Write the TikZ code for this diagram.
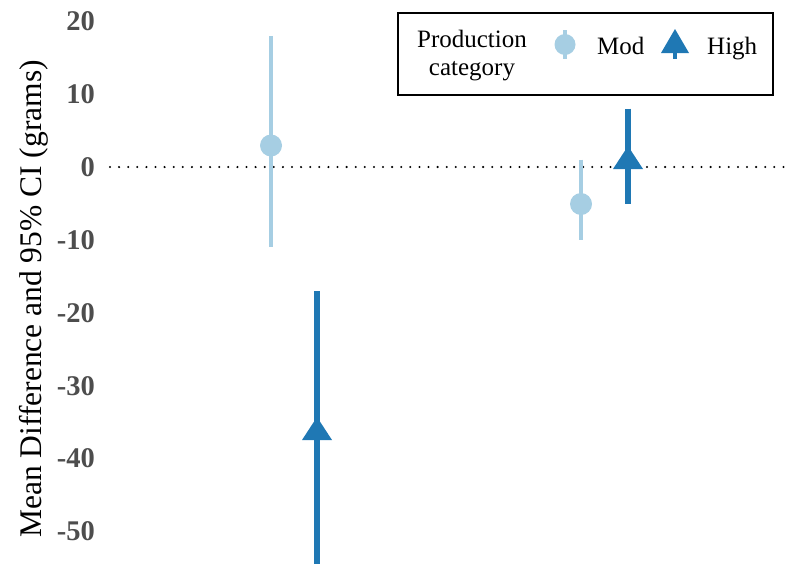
\documentclass[tikz,border=0pt]{standalone}
\usepackage{fontspec}
\setmainfont{Liberation Serif}
\definecolor{lightb}{HTML}{A6CEE3}
\definecolor{darkb}{HTML}{1F78B4}
\definecolor{tickgray}{HTML}{4D4D4D}
\tikzset{
  modci/.style={draw=lightb, line width=4.8pt},
  highci/.style={draw=darkb, line width=5.2pt},
  modpt/.style={circle, fill=lightb, minimum size=22pt, inner sep=0pt},
  ticklab/.style={anchor=east, text=tickgray, font=\fontsize{28.5}{32}\selectfont\bfseries, inner sep=0pt},
  legtext/.style={font=\fontsize{25}{28}\selectfont, inner sep=0pt, anchor=base west},
  zeroline/.style={draw=black, line width=2.3pt, dash pattern=on 0pt off 9.1pt, line cap=round}
}
\begin{document}
\begin{tikzpicture}[x=1pt,y=-1pt]
\useasboundingbox (0,0) rectangle (786,563);
\clip (0,0) rectangle (786,563);
% zero line
\coordinate (z0) at (110,167);
\coordinate (z1) at (786,167);
\draw[zeroline] (z0) -- (z1);
% tick labels
\foreach \v/\lab in {20/20,10/10,0/0,-10/-10,-20/-20,-30/-30,-40/-40,-50/-50}{
  \node[ticklab] (t\lab) at (95,{167-7.29*\v}) {\lab};
}
% axis title
\node[rotate=90, anchor=base, inner sep=0pt, font=\fontsize{31.5}{35}\selectfont] (ytitle) at (41,299) {Mean Difference and 95\% CI (grams)};
% Mod 1
\coordinate (m1a) at (271,35.8);
\coordinate (m1b) at (271,247.2);
\draw[modci] (m1a) -- (m1b);
\node[modpt] (m1) at (271,145.5) {};
% High 1
\coordinate (h1a) at (317,291);
\coordinate (h1b) at (317,570);
\draw[highci] (h1a) -- (h1b);
\fill[darkb] (317,417) -- (332,440) -- (302,440) -- cycle;
% Mod 2
\coordinate (m2a) at (581,159.7);
\coordinate (m2b) at (581,240);
\draw[modci] (m2a) -- (m2b);
\node[modpt] (m2) at (581,204) {};
% High 2
\coordinate (h2a) at (628,108.7);
\coordinate (h2b) at (628,203.5);
\draw[highci] (h2a) -- (h2b);
\fill[darkb] (628,146) -- (643,169) -- (613,169) -- cycle;
% legend
\draw[black, line width=2pt] (398,13) rectangle (773,95);
\node[font=\fontsize{25}{28}\selectfont, inner sep=0pt, anchor=base] (lt1) at (472,47) {Production};
\node[font=\fontsize{25}{28}\selectfont, inner sep=0pt, anchor=base] (lt2) at (472,75) {category};
\coordinate (lma) at (565,30);
\coordinate (lmb) at (565,59);
\draw[draw=lightb, line width=4pt] (lma) -- (lmb);
\node[modpt, minimum size=21pt] (lm) at (565,44.5) {};
\node[legtext] (lmod) at (597,54) {Mod};
\coordinate (lha) at (675,45);
\coordinate (lhb) at (675,59);
\draw[draw=darkb, line width=4.5pt] (lha) -- (lhb);
\fill[darkb] (675,29) -- (689,53) -- (661,53) -- cycle;
\node[legtext] (lhigh) at (707,54) {High};
\end{tikzpicture}
\end{document}
